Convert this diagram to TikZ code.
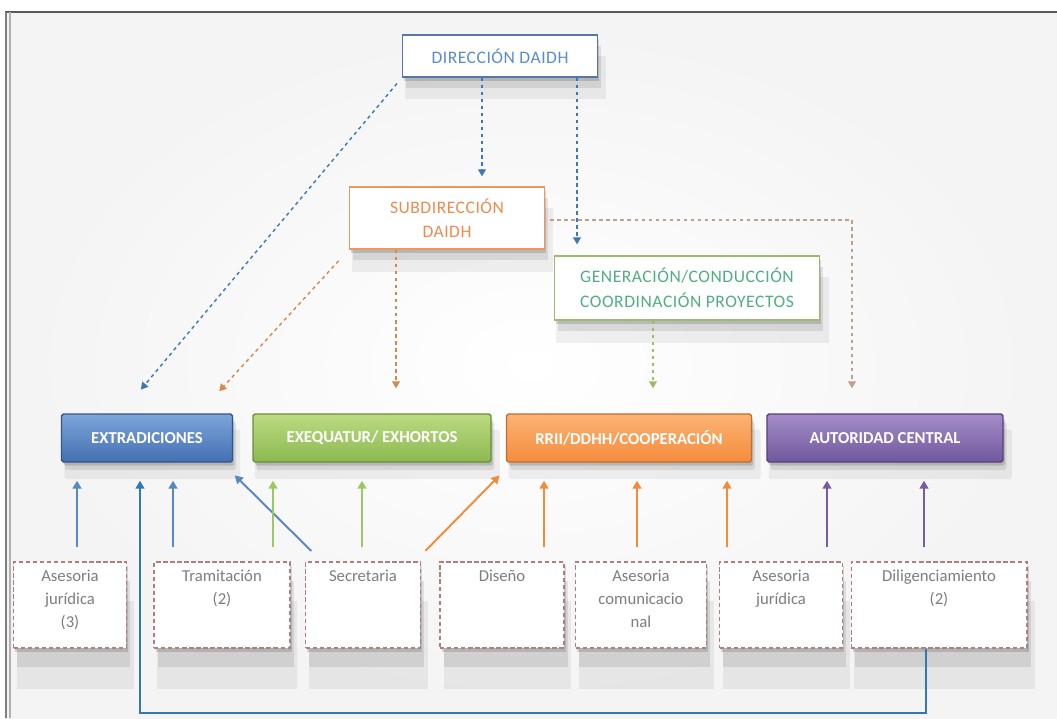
\documentclass[tikz,border=0pt]{standalone}
\usepackage{fontspec}
\setmainfont{Carlito}
\usetikzlibrary{arrows.meta,calc,shadows}

\definecolor{bordeDir}{RGB}{84,120,170}
\definecolor{textoDir}{RGB}{90,140,200}
\definecolor{bordeSub}{RGB}{240,150,90}
\definecolor{textoSub}{RGB}{238,140,80}
\definecolor{bordeGen}{RGB}{155,187,110}
\definecolor{textoGen}{RGB}{80,175,130}
\definecolor{azulA}{RGB}{125,165,218}
\definecolor{azulB}{RGB}{68,112,178}
\definecolor{azulBorde}{RGB}{50,85,140}
\definecolor{verdeA}{RGB}{188,218,130}
\definecolor{verdeB}{RGB}{140,185,80}
\definecolor{verdeBorde}{RGB}{110,140,60}
\definecolor{naranjaA}{RGB}{252,178,115}
\definecolor{naranjaB}{RGB}{245,140,60}
\definecolor{naranjaBorde}{RGB}{190,110,50}
\definecolor{moradoA}{RGB}{165,140,200}
\definecolor{moradoB}{RGB}{112,88,158}
\definecolor{moradoBorde}{RGB}{85,65,120}
\definecolor{bordeInf}{RGB}{180,125,125}
\definecolor{textoInf}{RGB}{125,125,125}
\definecolor{flechaAzul}{RGB}{90,135,190}
\definecolor{flechaVerde}{RGB}{155,200,100}
\definecolor{flechaNaranja}{RGB}{240,140,60}
\definecolor{flechaMorado}{RGB}{120,90,165}
\definecolor{lineaAzul}{RGB}{50,120,180}
\definecolor{guionAzul}{RGB}{60,120,185}
\definecolor{guionNaranja}{RGB}{215,135,75}
\definecolor{guionGris}{RGB}{190,160,140}
\definecolor{guionVerde}{RGB}{155,190,100}

\newcommand{\textoinf}[2]{\parbox[t][1.72cm][t]{#1}{\centering\rule{0pt}{11pt}#2}}

\tikzset{
  sombra/.style={
    drop shadow={shadow xshift=1pt, shadow yshift=-2pt, opacity=0.14, draw=none, fill=black},
    drop shadow={shadow xshift=2pt, shadow yshift=-#1/2, opacity=0.09, draw=none, fill=black},
    drop shadow={shadow xshift=3pt, shadow yshift=-#1, opacity=0.06, draw=none, fill=black, shadow scale=1.03}},
  cajasup/.style 2 args={draw=#1, text=#2, fill=white, line width=0.8pt, align=center,
    font=\fontsize{10}{14}\selectfont\addfontfeature{LetterSpace=3}, sombra=12pt},
  cajacol/.style n args={3}{draw=#3, top color=#1, bottom color=#2, line width=0.8pt,
    minimum height=0.96cm, text=white, font=\bfseries\fontsize{9.5}{11}\selectfont,
    rounded corners=1pt, sombra=9pt},
  cajainf/.style={draw=bordeInf, dashed, dash pattern=on 2.5pt off 1.5pt, fill=white,
    line width=0.6pt, inner sep=0pt, text=textoInf, font=\fontsize{9.5}{13}\selectfont,
    sombra=22pt},
  flecha/.style={-{Triangle[width=5pt,length=4.5pt]}, line width=1.1pt, #1,
    shorten <=0.3cm, shorten >=0.36cm},
  guion/.style={-{Triangle[width=4.5pt,length=4pt]}, line width=0.8pt, #1,
    dash pattern=on 2pt off 2pt}
}

\begin{document}
\begin{tikzpicture}[x=0.02cm,y=-0.02cm]
  %fondo
  \useasboundingbox (0,0) rectangle (1057,718);
  \shade[inner color=white, outer color=gray!9] (5,12) rectangle (1057,718);
  \draw[gray!70!black, line width=0.6pt] (5,12) -- (1057,12);
  \draw[gray, line width=0.7pt] (6,12) -- (6,718);
  \draw[gray!60, line width=0.6pt] (10,12) -- (10,718);

  %direccion
  \node[cajasup={bordeDir}{textoDir}, minimum width=3.9cm, minimum height=0.84cm] (dir) at (500,56) {DIRECCIÓN DAIDH};
  \node[cajasup={bordeSub}{textoSub}, minimum width=3.9cm, minimum height=1.24cm] (sub) at (447,218) {SUBDIRECCIÓN\\DAIDH};
  \node[cajasup={bordeGen}{textoGen}, minimum width=5.3cm, minimum height=1.28cm] (gen) at (687,288) {GENERACIÓN/CONDUCCIÓN\\COORDINACIÓN PROYECTOS};

  %areas
  \node[cajacol={azulA}{azulB}{azulBorde}, minimum width=3.42cm] (ext) at (147,438) {EXTRADICIONES};
  \node[cajacol={verdeA}{verdeB}{verdeBorde}, minimum width=4.76cm] (exe) at (372,438) {EXEQUATUR/ EXHORTOS};
  \node[cajacol={naranjaA}{naranjaB}{naranjaBorde}, minimum width=4.9cm] (rri) at (629,438) {RRII/DDHH/COOPERACIÓN};
  \node[cajacol={moradoA}{moradoB}{moradoBorde}, minimum width=4.72cm] (aut) at (885,438) {AUTORIDAD CENTRAL};

  %personal
  \node[cajainf] (aj3) at (70,605) {\textoinf{2.26cm}{Asesoria\\jurídica\\(3)}};
  \node[cajainf] (tra) at (222,605) {\textoinf{2.72cm}{Tramitación\\(2)}};
  \node[cajainf] (sec) at (363,605) {\textoinf{2.3cm}{Secretaria}};
  \node[cajainf] (dis) at (502,605) {\textoinf{2.48cm}{Diseño}};
  \node[cajainf] (aco) at (641,605) {\textoinf{2.62cm}{Asesoria\\comunicacio\\nal}};
  \node[cajainf] (aju) at (781,605) {\textoinf{2.46cm}{Asesoria\\jurídica}};
  \node[cajainf] (dil) at (939,605) {\textoinf{3.52cm}{Diligenciamiento\\(2)}};

  %dependencias
  \draw[guion=guionAzul, shorten <=0.15cm, shorten >=0.62cm] (dir.south west) -- ($(ext.north)+(-26,0)$);
  \draw[guion=guionAzul, shorten >=0.2cm] ($(dir.south)+(-18,0)$) -- ($(sub.north)+(35,0)$);
  \draw[guion=guionAzul, shorten >=0.22cm] ($(dir.south)+(77,0)$) -- ($(gen.north)+(-110,0)$);
  \draw[guion=guionNaranja, shorten <=0.3cm, shorten >=0.6cm] (sub.south west) -- ($(ext.north)+(52,0)$);
  \draw[guion=guionNaranja, shorten >=0.5cm] ($(sub.south)+(-51,0)$) -- ($(exe.north)+(24,0)$);
  \draw[guion=guionGris, shorten <=0.1cm, shorten >=0.5cm] ($(sub.east)+(0,2)$) -| ($(aut.north)+(-33,0)$);
  \draw[guion=guionVerde, shorten >=0.5cm] ($(gen.south)+(-34,0)$) -- ($(rri.north)+(24,0)$);

  %apoyo
  \draw[flecha=flechaAzul] ($(aj3.north)+(7,0)$) -- ($(ext.south)+(-70,0)$);
  \draw[flecha=flechaAzul] ($(tra.north)+(-49,0)$) -- ($(ext.south)+(26,0)$);
  \draw[flecha=flechaAzul] ($(sec.north)+(-41,0)$) -- ($(ext.south)+(75,0)$);
  \draw[flecha=flechaVerde] ($(tra.north)+(51,0)$) -- ($(exe.south)+(-99,0)$);
  \draw[flecha=flechaVerde] ($(sec.north)+(-1,0)$) -- ($(exe.south)+(-10,0)$);
  \draw[flecha=flechaNaranja] ($(sec.north)+(52,0)$) -- ($(rri.south)+(-117,0)$);
  \draw[flecha=flechaNaranja] ($(dis.north)+(42,0)$) -- ($(rri.south)+(-85,0)$);
  \draw[flecha=flechaNaranja] ($(aco.north)+(-4,0)$) -- ($(rri.south)+(8,0)$);
  \draw[flecha=flechaNaranja] ($(aju.north)+(-54,0)$) -- ($(rri.south)+(98,0)$);
  \draw[flecha=flechaMorado] ($(aju.north)+(46,0)$) -- ($(aut.south)+(-58,0)$);
  \draw[flecha=flechaMorado] ($(dil.north)+(-15,0)$) -- ($(aut.south)+(39,0)$);
  \coordinate (esq) at (140,713);
  \draw[flecha=lineaAzul, line width=0.9pt, shorten <=0pt] ($(dil.south)+(-13,0)$) |- (esq) -- ($(ext.south)+(-7,0)$);
\end{tikzpicture}
\end{document}
